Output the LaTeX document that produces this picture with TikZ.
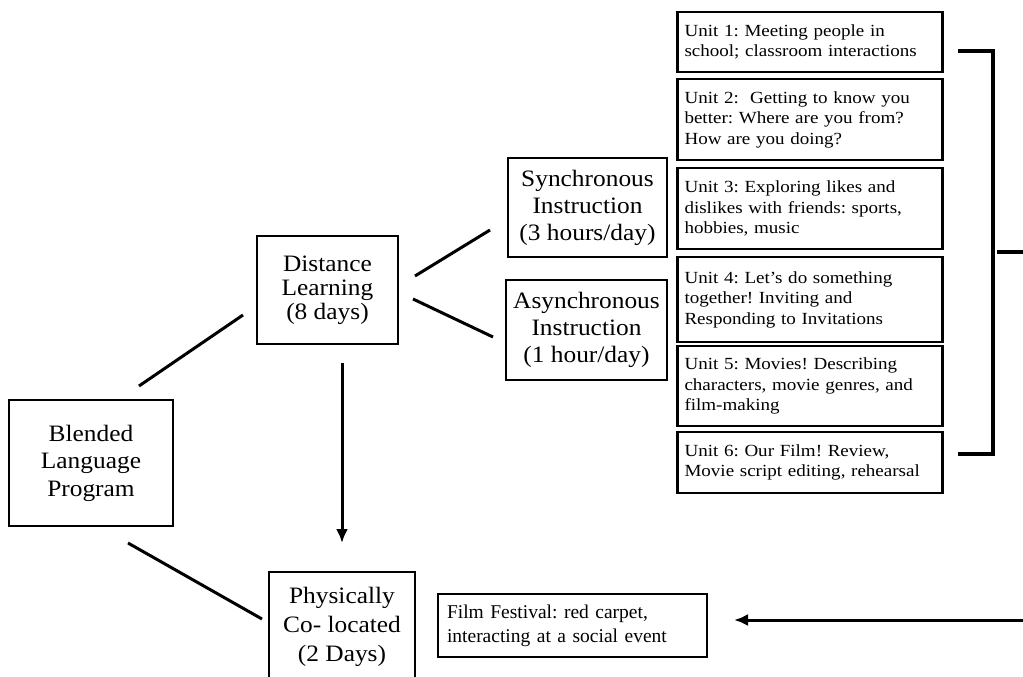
\documentclass[tikz,border=0pt]{standalone}
\usepackage{fontspec}
\setmainfont{Liberation Serif}
\newfontfamily\unitfam[FakeStretch=1.12]{Liberation Serif}
\newfontfamily\bigfam[FakeStretch=1.08]{Liberation Serif}
\usetikzlibrary{arrows.meta}
\frenchspacing
\tikzset{
  bigbox/.style={draw, line width=2.2pt, align=center, inner sep=0pt,
    font={\fontsize{23.5}{26}\selectfont\bigfam}},
  unitbox/.style={draw, line width=2.2pt, align=left, inner xsep=7pt, inner ysep=0pt,
    text width=251pt, minimum width=265pt,
    font={\fontsize{17}{20.5}\selectfont\unitfam}},
  filmbox/.style={draw, line width=2.2pt, align=left, inner xsep=9pt, inner ysep=0pt,
    text width=251pt, minimum width=269pt,
    font={\fontsize{19.5}{24}\selectfont}},
  link/.style={line width=3pt},
  arrowlink/.style={line width=3pt, arrows={-Latex[length=14pt,width=12pt]}},
  bracket/.style={line width=3.2pt}
}
\begin{document}
\begin{tikzpicture}[x=1pt,y=-1pt]
\useasboundingbox (0,0) rectangle (1023,677);
\clip (0,0) rectangle (1023,677);
\fill[white] (0,0) rectangle (1023,677);

% main program boxes
\node[bigbox, minimum width=164pt, minimum height=126pt, font={\fontsize{23.5}{27.5}\selectfont\bigfam}]
  (blended) at (91,463) {Blended\\Language\\Program};
\node[bigbox, minimum width=141pt, minimum height=108pt, font={\fontsize{23.5}{24}\selectfont\bigfam}]
  (distance) at (327.5,290) {Distance\\Learning\\(8 days)};
\node[bigbox, minimum width=159pt, minimum height=99pt, font={\fontsize{23.5}{27}\selectfont\bigfam}]
  (sync) at (587.5,207.5) {Synchronous\\Instruction\\(3 hours/day)};
\node[bigbox, minimum width=161pt, minimum height=100pt, font={\fontsize{23.5}{27}\selectfont\bigfam}]
  (async) at (586.5,330) {Asynchronous\\Instruction\\(1 hour/day)};
\node[bigbox, minimum width=146pt, minimum height=110pt, font={\fontsize{23.5}{29}\selectfont\bigfam}]
  (phys) at (342,627) {Physically\\Co- located\\(2 Days)};
\node[filmbox, minimum height=63pt] (film) at (572.5,625.5)
  {Film Festival: red carpet,\\interacting at a social event};

% unit boxes
\node[unitbox, minimum height=60pt] (u1) at (810,42)
  {Unit 1: Meeting people in\\school; classroom interactions};
\node[unitbox, minimum height=81pt] (u2) at (810,119.5)
  {Unit 2:~ Getting to know you\\better: Where are you from?\\How are you doing?};
\node[unitbox, minimum height=81pt] (u3) at (810,208.5)
  {Unit 3: Exploring likes and\\dislikes with friends: sports,\\hobbies, music};
\node[unitbox, minimum height=85pt] (u4) at (810,299.5)
  {Unit 4: Let’s do something\\together! Inviting and\\Responding to Invitations};
\node[unitbox, minimum height=80pt] (u5) at (810,386)
  {Unit 5: Movies! Describing\\characters, movie genres, and\\film-making};
\node[unitbox, minimum height=61pt] (u6) at (810,462.5)
  {Unit 6: Our Film! Review,\\Movie script editing, rehearsal};

% free ends of the connectors
\coordinate (bdA) at (139,386);  \coordinate (bdB) at (243,315);
\coordinate (bpA) at (128,543);  \coordinate (bpB) at (262,619);
\coordinate (dsA) at (415,276);  \coordinate (dsB) at (490,230);
\coordinate (daA) at (413,299);  \coordinate (daB) at (493,337);
\coordinate (dpA) at (342,363);  \coordinate (dpB) at (342,543);
\coordinate (brTop) at (958,51); \coordinate (brTopC) at (993,51);
\coordinate (brBot) at (958,454); \coordinate (brBotC) at (993,454);
\coordinate (brMid) at (997,252); \coordinate (brOut) at (1023,252);
\coordinate (fIn) at (1023,620); \coordinate (fTip) at (734,620);

\draw[link] (bdA) -- (bdB);
\draw[link] (bpA) -- (bpB);
\draw[link] (dsA) -- (dsB);
\draw[link] (daA) -- (daB);
\draw[arrowlink] (dpA) -- (dpB);

% bracket gathering the six units
\draw[bracket] (brTop) -- (brTopC) -- (brBotC) -- (brBot);
\draw[bracket] (brMid) -- (brOut);
\draw[arrowlink] (fIn) -- (fTip);
\end{tikzpicture}
\end{document}
